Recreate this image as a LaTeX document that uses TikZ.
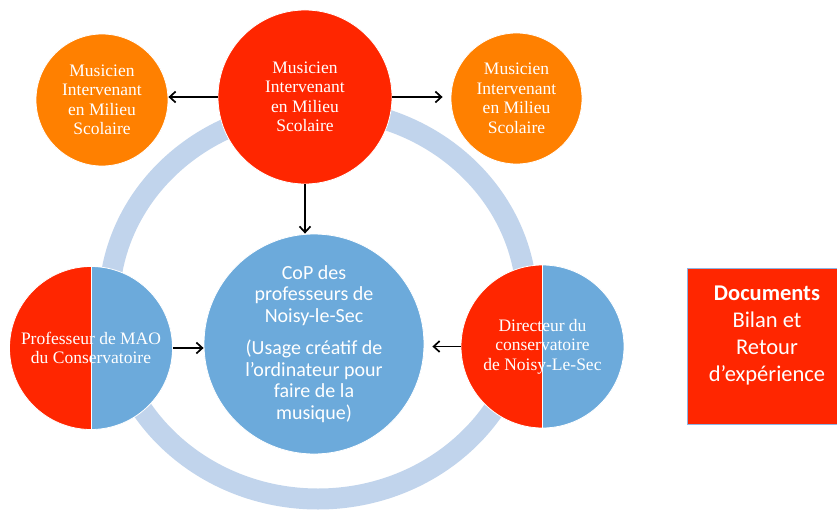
\documentclass[tikz,border=0pt]{standalone}
\usepackage{fontspec}
\usetikzlibrary{arrows.meta}
\newfontfamily\serifcirc{Liberation Serif}
\newfontfamily\calfont{Carlito}
\definecolor{cred}{HTML}{FF2600}
\definecolor{corange}{HTML}{FF8000}
\definecolor{cblue}{HTML}{6CAADB}
\definecolor{cring}{HTML}{C1D4EC}
\definecolor{cborder}{HTML}{8EB4E3}
\begin{document}
\begin{tikzpicture}[x=1pt,y=-1pt,
  circ/.style={circle, inner sep=0pt, draw=white, line width=0.8pt, text=white, align=center},
  serifc/.style={font=\serifcirc\fontsize{17.5}{19.5}\selectfont},
  splitc/.style={circ, serifc, minimum size=163pt, path picture={
      \fill[cred] (path picture bounding box.south west) rectangle (path picture bounding box.north);
      \fill[cblue] (path picture bounding box.south) rectangle (path picture bounding box.north east);
      \draw[white, line width=1pt] (path picture bounding box.south) -- (path picture bounding box.north);
    }},
  arr/.style={draw=black, line width=1.7pt, -{Straight Barb[length=6pt,width=11pt]}},
  ringstyle/.style={draw=cring, line width=21pt}
]
\useasboundingbox (0,0) rectangle (837,511);
\fill[white] (0,0) rectangle (837,511);

% ring
\draw[ringstyle] (318,304) ellipse [x radius=209pt, y radius=195pt];

% circles
\node[circ, serifc, fill=cred, minimum size=174pt] (mimsTop) at (305,97)
  {Musicien\\Intervenant\\en Milieu\\Scolaire};
\node[circ, serifc, fill=corange, minimum size=132pt] (mimsL) at (102,100)
  {Musicien\\Intervenant\\en Milieu\\Scolaire};
\node[circ, serifc, fill=corange, minimum size=131pt] (mimsR) at (516.5,98.5)
  {Musicien\\Intervenant\\en Milieu\\Scolaire};
\node[circ, fill=cblue, minimum size=220pt, font=\calfont\fontsize{20}{21.5}\selectfont] (cop) at (314,344)
  {CoP des\\professeurs de\\Noisy-le-Sec\\[11pt](Usage créatif de\\l’ordinateur pour\\faire de la\\musique)};
\node[splitc] (prof) at (91,348) {Professeur de MAO\\du Conservatoire};
\node[splitc] (dir) at (542.5,346.5) {Directeur du\\conservatoire\\de Noisy-Le-Sec};

% document box
\node[rectangle, fill=cred, draw=cborder, line width=1pt, minimum width=160pt, minimum height=156pt,
  text=white, align=center, inner sep=0pt, font=\calfont\fontsize{22.5}{27}\selectfont] (doc) at (767,346)
  {\textbf{Documents}\\Bilan et\\Retour\\d’expérience\\[-3pt]\mbox{}};

% arrows
\draw[arr] (mimsTop.west) -- (mimsTop.west -| mimsL.east);
\draw[arr, shorten >=8pt] (mimsTop.east) -- (mimsTop.east -| mimsR.west);
\draw[arr] (mimsTop.south) -- (mimsTop.south |- cop.north);
\draw[arr] (prof.east) -- (prof.east -| cop.west);
\draw[arr, shorten >=8pt] (dir.west) -- (dir.west -| cop.east);
\end{tikzpicture}
\end{document}
